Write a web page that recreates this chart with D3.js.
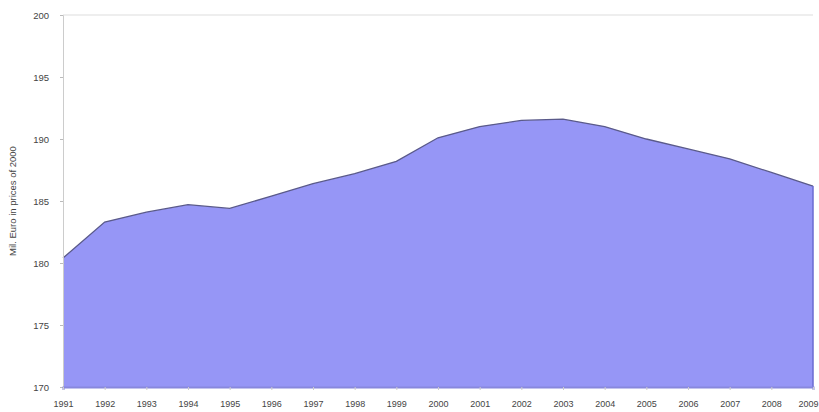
<!DOCTYPE html>
<html><head><meta charset="utf-8">
<script src="https://cdn.jsdelivr.net/npm/d3@7"></script>
<style>body{margin:0;background:#fff}svg{display:block}</style>
</head><body>
<svg id="c" width="819" height="412"></svg>
<script>
const years = [1991,1992,1993,1994,1995,1996,1997,1998,1999,2000,2001,2002,2003,2004,2005,2006,2007,2008,2009];
const values = [180.4,183.3,184.1,184.7,184.4,185.4,186.4,187.2,188.2,190.1,191.0,191.5,191.6,191.0,190.0,189.2,188.4,187.3,186.2];
const yTicks = [170,175,180,185,190,195,200];
const yLabel = "Mil. Euro in prices of 2000";

const svg = d3.select("#c");
const m = {l:63, r:6, t:15, b:25};
const W = 819, H = 412;
const x = d3.scaleLinear().domain([1991,2009]).range([m.l, W-m.r]);
const y = d3.scaleLinear().domain([170,200]).range([H-m.b, m.t]);

svg.append("line").attr("x1",m.l).attr("x2",W-m.r).attr("y1",y(200)).attr("y2",y(200))
  .attr("stroke","#ddd").attr("stroke-width",1);

const data = years.map((d,i)=>({x:d,y:values[i]}));
svg.append("path").datum(data)
  .attr("d", d3.area().x(d=>x(d.x)).y0(y(170)).y1(d=>y(d.y)))
  .attr("fill","#9696f6");
svg.append("path").datum(data)
  .attr("d", d3.line().x(d=>x(d.x)).y(d=>y(d.y)))
  .attr("fill","none").attr("stroke","#5a5a8a").attr("stroke-width",1.3);
svg.append("line").attr("x1",x(2009)).attr("x2",x(2009)).attr("y1",y(values[values.length-1])).attr("y2",y(170))
  .attr("stroke","#6a6ad0").attr("stroke-width",1.5);

const ya = svg.append("g").attr("transform",`translate(${m.l},0)`)
  .call(d3.axisLeft(y).tickValues(yTicks).tickSize(3).tickFormat(d3.format("d")));
ya.select(".domain").attr("stroke","#ccc");
ya.selectAll(".tick line").attr("stroke","#bbb");
ya.selectAll("text").attr("font-family","Liberation Sans, Arial, sans-serif").attr("font-size",9.5).attr("fill","#444").attr("dx",-8);

const xa = svg.append("g").attr("transform",`translate(0,${H-m.b})`)
  .call(d3.axisBottom(x).tickValues(years).tickSize(3).tickFormat(d3.format("d")));
xa.select(".domain").attr("stroke","#8888dd").attr("stroke-width",2);
xa.selectAll(".tick line").attr("stroke","#ccc");
xa.selectAll("text").attr("font-family","Liberation Sans, Arial, sans-serif").attr("font-size",9).attr("fill","#444").attr("dy","1.6em");
xa.selectAll(".tick").filter(d=>d===2009).select("text").attr("text-anchor","end").attr("dx",5);

svg.append("text").attr("transform",`translate(16,${(m.t+H-m.b)/2}) rotate(-90)`)
  .attr("text-anchor","middle").attr("font-family","Liberation Sans, Arial, sans-serif")
  .attr("font-size",9.5).attr("fill","#444").text(yLabel);
</script>
</body></html>
